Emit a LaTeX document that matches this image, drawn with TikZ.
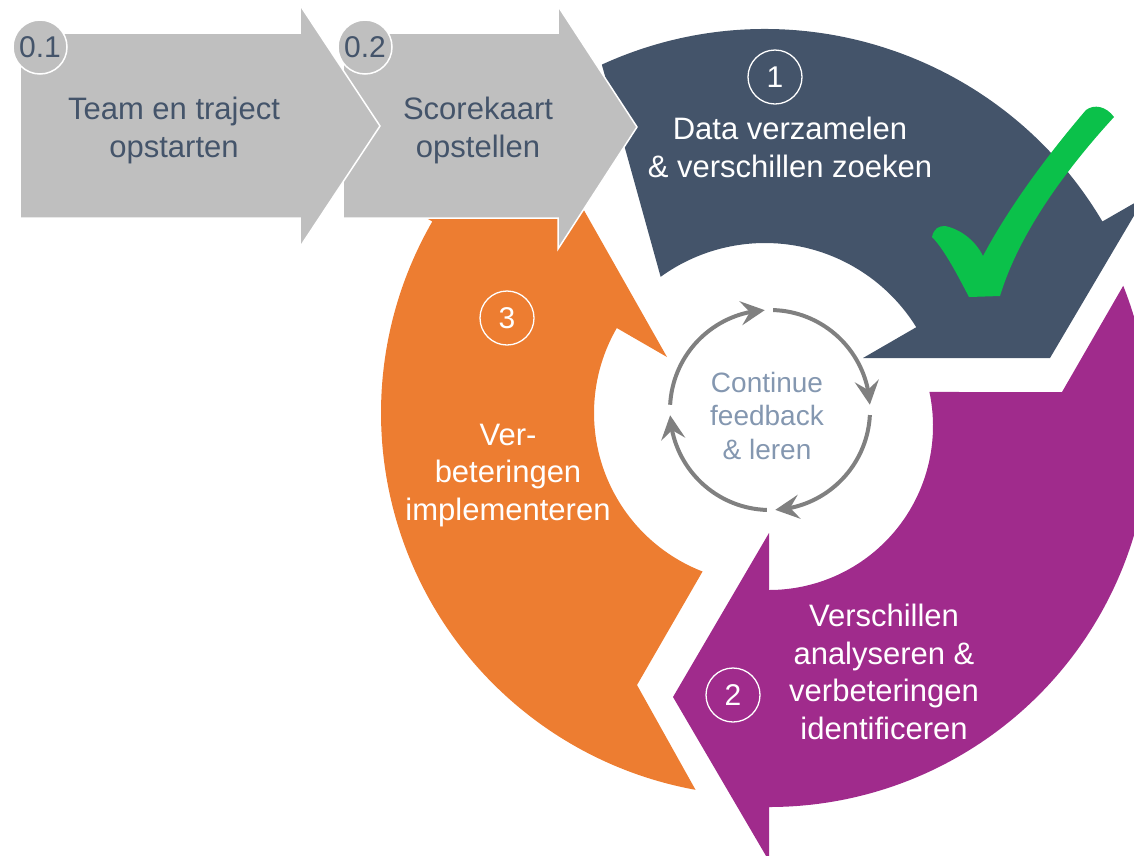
\documentclass[tikz,border=0pt]{standalone}
\usepackage{fontspec}
\setmainfont{Liberation Sans}
\usetikzlibrary{arrows.meta,bending}
\definecolor{grayarrow}{HTML}{BFBFBF}
\definecolor{slate}{HTML}{44546A}
\definecolor{orangeseg}{HTML}{ED7D31}
\definecolor{purpleseg}{HTML}{A02B8C}
\definecolor{greencheck}{HTML}{0BC14A}
\definecolor{loopgray}{HTML}{808080}
\definecolor{looptext}{HTML}{8497B0}
\begin{document}
\begin{tikzpicture}[x=1pt,y=-1pt,
  chev/.style={fill=grayarrow, draw=white, line width=1.5pt, line join=miter},
  phase/.style={circle, fill=grayarrow, draw=white, line width=1.5pt, minimum size=54pt, inner sep=0pt, text=slate, font=\fontsize{30}{36}\selectfont},
  stepnum/.style={circle, draw=white, line width=1.3pt, minimum size=54pt, inner sep=0pt, text=white, font=\fontsize{30}{36}\selectfont},
  lbl/.style={align=center, font=\fontsize{31}{37.5}\selectfont, inner sep=0pt, anchor=base},
  loopline/.style={draw=loopgray, line width=4pt, -{Stealth[length=24pt,width=24pt,inset=9pt]}}
]
\useasboundingbox (0,0) rectangle (1134,855);
\clip (0,0) rectangle (1134,855);
\coordinate (co) at (764,413);
\coordinate (cb) at (765,421);
\coordinate (cp) at (769,426);
\coordinate (cc) at (770,410);

% orange segment (3)
\fill[orangeseg] ([shift={(100.3:383)}]co) arc[start angle=100.3, end angle=210, radius=383]
  -- (383,193) -- (577,198) -- (667,357)
  -- ([shift={(210:170)}]co) arc[start angle=210, end angle=111.2, radius=170]
  -- (637,685) -- cycle;

% blue segment (1)
\fill[slate] ([shift={(-114.6:392)}]cb) arc[start angle=-114.6, end angle=-30.6, radius=392]
  -- (1145,197) -- (1050,358) -- (863,358)
  -- ([shift={(-31.8:178)}]cb) arc[start angle=-31.8, end angle=-125.9, radius=178]
  -- cycle;

% purple segment (2)
\fill[purpleseg] ([shift={(-11.97:164)}]cp) arc[start angle=-11.97, end angle=90, radius=164]
  -- (769,533) -- (673,697) -- (769,861) -- (769,807)
  arc[start angle=90, end angle=-21.6, radius=381]
  -- (1062,392) -- cycle;

% check mark
\fill[greencheck] (932,237) .. controls (934,228) and (939,226) .. (945,226)
  .. controls (960,229) and (975,240) .. (983,256)
  .. controls (1010,205) and (1050,152) .. (1086,110)
  .. controls (1094,104) and (1106,106) .. (1114,117)
  .. controls (1070,165) and (1020,230) .. (1000,296)
  -- (969,297)
  .. controls (960,280) and (945,250) .. (932,237) -- cycle;

% phase arrows
\draw[chev] (343,33) -- (558,33) -- (558,6) -- (637,127) -- (558,249) -- (558,218) -- (343,218) -- cycle;
\draw[chev] (20,33) -- (300,33) -- (300,5) -- (380,126) -- (300,247) -- (300,218) -- (20,218) -- cycle;
\node[phase] (p01) at (40,47) {0.1};
\node[phase] (p02) at (365,47) {0.2};

% feedback loop
\draw[loopline] ([shift={(183:100)}]cc) arc[start angle=183, end angle=267, radius=100];
\draw[loopline] ([shift={(271.8:100)}]cc) arc[start angle=271.8, end angle=357, radius=100];
\draw[loopline] ([shift={(2.9:100)}]cc) arc[start angle=2.9, end angle=87, radius=100];
\draw[loopline] ([shift={(91.8:100)}]cc) arc[start angle=91.8, end angle=177, radius=100];

% step numbers
\node[stepnum] (n1) at (775,77) {1};
\node[stepnum] (n3) at (507,318) {3};
\node[stepnum] (n2) at (733,695) {2};

% labels (anchor = baseline of the last line)
\node[lbl, text=slate] (t01) at (174,157) {Team en traject\\opstarten};
\node[lbl, text=slate] (t02) at (478,157) {Scorekaart\\opstellen};
\node[lbl, text=white] (t1) at (790,177) {Data verzamelen\\\& verschillen zoeken};
\node[lbl, text=white] (t3) at (508,520) {Ver-\\beteringen\\implementeren};
\node[lbl, text=white] (t2) at (884,739) {Verschillen\\analyseren \&\\verbeteringen\\identificeren};
\node[align=center, font=\fontsize{28}{33.5}\selectfont, text=looptext, inner sep=0pt, anchor=base] (tloop) at (767,459) {Continue\\feedback\\\& leren};
\end{tikzpicture}
\end{document}
